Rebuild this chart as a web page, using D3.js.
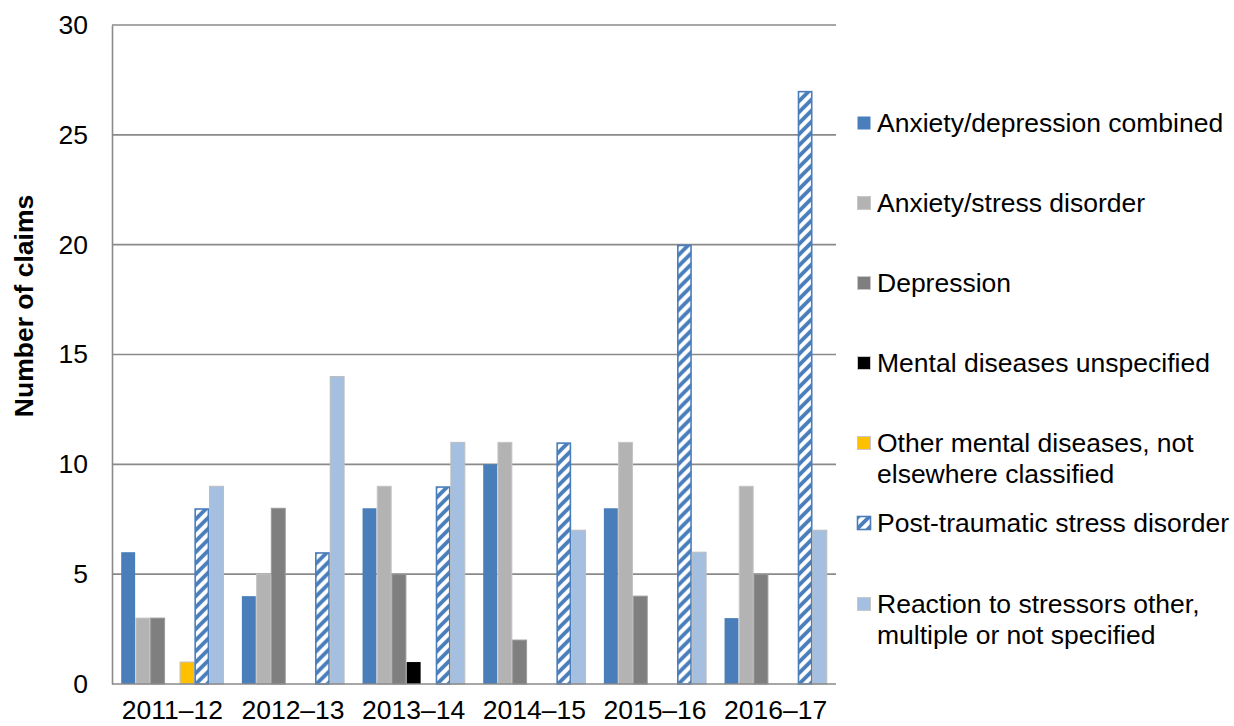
<!DOCTYPE html>
<html>
<head>
<meta charset="utf-8">
<script src="https://cdn.jsdelivr.net/npm/d3@7"></script>
<style>
  html, body { margin: 0; padding: 0; background: #ffffff; }
  svg { display: block; font-family: "Liberation Sans", Arial, sans-serif; }
</style>
</head>
<body>
<svg id="chart" width="1234" height="726"></svg>
<script>
// Financial years on the category axis
const years = ["2011–12", "2012–13", "2013–14", "2014–15", "2015–16", "2016–17"];

// Claim counts per condition, one value per year
const anxietyDepression = [6, 4, 8, 10, 8, 3];
const anxietyStress     = [3, 5, 9, 11, 11, 9];
const depression        = [3, 8, 5, 2, 4, 5];
const mentalUnspecified = [0, 0, 1, 0, 0, 0];
const otherMental       = [1, 0, 0, 0, 0, 0];
const ptsd              = [8, 6, 9, 11, 20, 27];
const reaction          = [9, 14, 11, 7, 6, 7];

// Legend text, split into the lines it wraps onto
const seriesLabels = [
  ["Anxiety/depression combined"],
  ["Anxiety/stress disorder"],
  ["Depression"],
  ["Mental diseases unspecified"],
  ["Other mental diseases, not", "elsewhere classified"],
  ["Post-traumatic stress disorder"],
  ["Reaction to stressors other,", "multiple or not specified"]
];

const yTicks = [0, 5, 10, 15, 20, 25, 30];
const yTitle = "Number of claims";

const seriesValues = [anxietyDepression, anxietyStress, depression, mentalUnspecified, otherMental, ptsd, reaction];
const seriesKeys = seriesValues.map((_, i) => "s" + i);

const series = seriesKeys.map((k, i) => ({
  key: k,
  lines: seriesLabels[i],
  values: seriesValues[i]
}));

const fills = {
  s0: "#4a7ebb",
  s1: "#b3b3b3",
  s2: "#7f7f7f",
  s3: "#000000",
  s4: "#ffc000",
  s5: "url(#ptsdStripes)",
  s6: "#a4bfdf"
};
const strokes = {
  s0: "none",
  s1: "#c4c4c4",
  s2: "#9a9a9a",
  s3: "none",
  s4: "#bdbdbd",
  s5: "#4a7ebb",
  s6: "#bdbdbd"
};

const svg = d3.select("#chart");
const fontSize = 26.5;

const plot = { left: 112, right: 836, top: 25, bottom: 684 };

// Diagonal stripe fill used for PTSD bars
const defs = svg.append("defs");
const pat = defs.append("pattern")
  .attr("id", "ptsdStripes")
  .attr("patternUnits", "userSpaceOnUse")
  .attr("width", 11)
  .attr("height", 11);
pat.append("rect").attr("width", 11).attr("height", 11).attr("fill", "#ffffff");
pat.append("path")
  .attr("d", "M-3,3 L3,-3 M0,11 L11,0 M8,14 L14,8")
  .attr("stroke", "#4a7ebb")
  .attr("stroke-width", 3.8);

const x0 = d3.scaleBand()
  .domain(years)
  .range([plot.left, plot.right])
  .paddingInner(0.146)
  .paddingOuter(0.073);

const x1 = d3.scaleBand()
  .domain(seriesKeys)
  .range([0, x0.bandwidth()]);

const y = d3.scaleLinear()
  .domain([0, 30])
  .range([plot.bottom, plot.top]);

// Horizontal gridlines
svg.append("g")
  .selectAll("line")
  .data(yTicks.filter(t => t > 0))
  .join("line")
  .attr("x1", plot.left)
  .attr("x2", plot.right)
  .attr("y1", d => y(d))
  .attr("y2", d => y(d))
  .attr("stroke", "#8a8a8a")
  .attr("stroke-width", 1.6);

// Bars
const groups = svg.append("g")
  .selectAll("g")
  .data(years)
  .join("g")
  .attr("transform", d => `translate(${x0(d)},0)`);

groups.selectAll("rect")
  .data((yr, yi) => series.map(s => ({ key: s.key, value: s.values[yi] })).filter(d => d.value > 0))
  .join("rect")
  .attr("x", d => x1(d.key) + (d.key === "s5" ? 0.75 : 0.4))
  .attr("width", d => x1.bandwidth() - (d.key === "s5" ? 1.5 : 0.8))
  .attr("y", d => y(d.value) + (d.key === "s5" ? 0.75 : 0))
  .attr("height", d => plot.bottom - y(d.value) - (d.key === "s5" ? 0.75 : 0))
  .attr("fill", d => fills[d.key])
  .attr("stroke", d => strokes[d.key])
  .attr("stroke-width", d => d.key === "s5" ? 1.6 : 1);

// Y axis: line and labels
const yAxis = d3.axisLeft(y)
  .tickValues(yTicks)
  .tickSize(0)
  .tickPadding(24)
  .tickFormat(d3.format("d"));

const yg = svg.append("g")
  .attr("transform", `translate(${plot.left},0)`)
  .call(yAxis);
yg.select(".domain").attr("stroke", "#8a8a8a").attr("stroke-width", 1.6);
yg.selectAll("text")
  .attr("font-size", fontSize)
  .attr("font-family", "Liberation Sans, Arial, sans-serif")
  .attr("fill", "#000");

// X axis: baseline and year labels
const xAxis = d3.axisBottom(x0).tickSize(0).tickPadding(16.5);
const xg = svg.append("g")
  .attr("transform", `translate(0,${plot.bottom})`)
  .call(xAxis);
xg.select(".domain")
  .attr("d", `M${plot.left},0H${plot.right}`)
  .attr("stroke", "#8a8a8a")
  .attr("stroke-width", 1.6);
xg.selectAll("text")
  .attr("font-size", fontSize)
  .attr("font-family", "Liberation Sans, Arial, sans-serif")
  .attr("fill", "#000");

// Y axis title
svg.append("text")
  .attr("transform", "translate(33,306) rotate(-90)")
  .attr("text-anchor", "middle")
  .attr("font-size", 26.5)
  .attr("font-weight", "bold")
  .attr("fill", "#000")
  .text(yTitle);

// Legend
const legendBaselines = [132, 212, 292, 372, 452, 532, 613];
const lineGap = 31;
const legend = svg.append("g");
series.forEach((s, i) => {
  const base = legendBaselines[i];
  legend.append("rect")
    .attr("x", 857.5)
    .attr("y", base - 15.5)
    .attr("width", 13)
    .attr("height", 13)
    .attr("fill", fills[s.key])
    .attr("stroke", s.key === "s0" ? "none" : (s.key === "s5" ? "#4a7ebb" : "#c8c8c8"))
    .attr("stroke-width", s.key === "s5" ? 1.6 : 1);
  const t = legend.append("text")
    .attr("x", 877)
    .attr("y", base)
    .attr("font-size", fontSize)
    .attr("fill", "#000");
  s.lines.forEach((ln, j) => {
    t.append("tspan")
      .attr("x", 877)
      .attr("y", base + j * lineGap)
      .text(ln);
  });
});
</script>
</body>
</html>
